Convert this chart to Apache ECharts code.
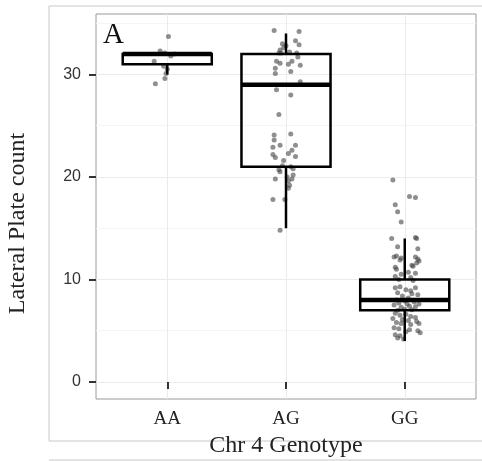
<!DOCTYPE html>
<html>
<head>
<meta charset="utf-8">
<script src="https://cdn.jsdelivr.net/npm/echarts@6/dist/echarts.min.js"></script>
<style>
    html, body { margin: 0; padding: 0; background: #fff; }
    #chart { width: 482px; height: 461px; }
</style>
</head>
<body>
<div id="chart"></div>
<script>
// genotypes on the x axis, placed at 1, 2, 3
var genotypes = ['AA', 'AG', 'GG'];
var yTicks = [0, 10, 20, 30];
var yMinorTicks = [5, 15, 25, 35];

// box statistics per genotype
var boxLow = [30, 15, 4];
var boxQ1 = [31, 21, 7];
var boxMedian = [32, 29, 8];
var boxQ3 = [32, 32, 10];
var boxHigh = [32, 34, 14];

// jittered points [x, plate count]
var aaPoints = [
    [1.01, 33.7], [0.94, 32.3], [0.98, 32.1], [1.03, 31.8], [1.06, 32.0],
    [0.89, 31.3], [0.97, 30.8], [1.00, 30.5], [0.99, 30.1], [0.98, 29.6],
    [0.90, 29.1]
];
var agPoints = [
    [1.90, 34.3], [2.11, 34.2], [2.08, 33.3], [2.11, 32.9], [1.95, 32.4],
    [1.98, 32.6], [1.96, 32.1], [1.94, 32.1], [2.09, 32.1], [2.10, 31.7],
    [1.92, 31.3], [2.05, 31.3], [2.02, 31.0], [2.12, 30.9], [1.91, 30.6],
    [1.95, 31.1], [1.91, 30.1], [2.04, 30.3], [2.12, 29.3], [1.92, 28.5],
    [2.04, 28.0], [1.94, 26.1], [2.00, 32.8], [1.97, 33.0], [2.03, 32.2],
    [1.90, 24.1], [2.04, 24.2], [1.90, 23.6], [1.95, 23.1], [2.08, 23.1],
    [1.89, 22.9], [2.05, 22.6], [2.02, 22.3], [1.89, 22.2], [1.91, 21.9],
    [2.08, 22.0], [1.98, 21.6], [1.97, 21.1], [2.04, 21.0], [1.94, 20.7],
    [1.95, 20.5], [2.06, 20.8], [2.01, 20.0], [2.06, 20.2], [1.91, 19.8],
    [2.02, 19.6], [2.03, 19.2], [2.05, 19.8], [2.02, 18.9], [1.89, 17.8],
    [1.99, 17.8], [1.95, 14.8]
];
var ggPoints = [
    [2.90, 19.7], [3.04, 18.1], [3.09, 18.0], [2.92, 17.3], [2.94, 16.6],
    [2.97, 15.6], [2.89, 14.0], [3.09, 14.1], [3.10, 14.0], [2.94, 13.2],
    [3.11, 13.0], [2.91, 12.2], [2.93, 12.3], [2.97, 12.1], [3.09, 12.2],
    [3.11, 12.0], [2.96, 11.9], [2.92, 11.2], [2.93, 11.0], [3.06, 11.4],
    [3.07, 11.3], [3.10, 11.6], [3.12, 11.8], [3.03, 10.7], [3.09, 10.6],
    [2.92, 10.3], [2.97, 10.5], [3.05, 10.2], [2.95, 10.0], [3.07, 9.9],
    [2.92, 9.2], [2.96, 9.3], [3.01, 9.0], [3.05, 8.9], [3.09, 9.2],
    [2.94, 8.7], [3.06, 8.6], [2.98, 8.4], [3.03, 8.2], [3.11, 8.5],
    [2.93, 8.0], [3.00, 7.9], [3.08, 7.8], [2.95, 7.7], [3.02, 7.6],
    [3.04, 7.4], [2.97, 7.3], [3.09, 7.35], [2.91, 7.5], [3.12, 7.6],
    [3.00, 7.1], [2.94, 7.0], [3.06, 7.05], [2.92, 6.7], [2.96, 6.5],
    [3.01, 6.6], [3.05, 6.4], [3.09, 6.3], [2.90, 6.2], [2.98, 6.1],
    [3.03, 6.0], [3.10, 5.9], [2.93, 5.8], [2.97, 5.7], [3.05, 5.6],
    [3.12, 5.7], [2.91, 5.3], [2.95, 5.2], [3.04, 5.1], [3.11, 5.0],
    [3.13, 4.8], [2.92, 4.6], [2.94, 4.3], [2.96, 4.5], [3.01, 4.9],
    [2.99, 4.2]
];

var boxHalfWidth = 0.375;
var serif = '"Liberation Serif", "DejaVu Serif", serif';

var myChart = echarts.init(document.getElementById('chart'));

var boxData = genotypes.map(function (name, i) {
    return [i + 1, boxLow[i], boxQ1[i], boxMedian[i], boxQ3[i], boxHigh[i]];
});

/**
 * 箱线图 -- 盒子、须线、中位数
 */
function renderBox(params, api) {
    var x = api.value(0);
    var low = api.coord([x, api.value(1)]);
    var q1 = api.coord([x, api.value(2)]);
    var q3 = api.coord([x, api.value(4)]);
    var high = api.coord([x, api.value(5)]);
    var tl = api.coord([x - boxHalfWidth, api.value(4)]);
    var br = api.coord([x + boxHalfWidth, api.value(2)]);
    var mL = api.coord([x - boxHalfWidth, api.value(3)]);
    var mR = api.coord([x + boxHalfWidth, api.value(3)]);
    var lineStyle = { stroke: '#000', lineWidth: 2.5, fill: null };
    return {
        type: 'group',
        children: [
            { type: 'line', shape: { x1: low[0], y1: low[1], x2: q1[0], y2: q1[1] }, style: lineStyle },
            { type: 'line', shape: { x1: q3[0], y1: q3[1], x2: high[0], y2: high[1] }, style: lineStyle },
            {
                type: 'rect',
                shape: { x: tl[0], y: tl[1], width: br[0] - tl[0], height: br[1] - tl[1] },
                style: { stroke: '#000', lineWidth: 2.5, fill: 'transparent' }
            },
            { type: 'line', shape: { x1: mL[0], y1: mL[1], x2: mR[0], y2: mR[1] }, style: { stroke: '#000', lineWidth: 4.5 } }
        ]
    };
}

var option = {
    animation: false,
    backgroundColor: '#fff',
    graphic: [
        {
            type: 'rect',
            shape: { x: 49, y: 6, width: 440, height: 435 },
            style: { fill: 'transparent', stroke: '#c8c8c8', lineWidth: 1 },
            z: -10
        },
        {
            type: 'line',
            shape: { x1: 49, y1: 460, x2: 482, y2: 460 },
            style: { stroke: '#c8c8c8', lineWidth: 1 }
        },
        {
            type: 'text',
            left: 103,
            top: 21,
            style: { text: 'A', font: '29px ' + serif, fill: '#111' },
            z: 10
        }
    ],
    grid: {
        left: 96,
        right: 6,
        top: 14,
        bottom: 62,
        show: true,
        borderColor: '#9a9a9a',
        borderWidth: 1,
        outerBoundsMode: 'none'
    },
    xAxis: {
        type: 'value',
        min: 0.4,
        max: 3.6,
        name: 'Chr 4 Genotype',
        nameLocation: 'middle',
        nameGap: 30,
        nameTextStyle: { fontFamily: serif, fontSize: 24, color: '#222' },
        axisLine: { show: false },
        axisTick: {
            show: true,
            customValues: [1, 2, 3],
            length: 7,
            lineStyle: { color: '#333', width: 2 }
        },
        axisLabel: {
            customValues: [1, 2, 3],
            margin: 11,
            fontFamily: serif,
            fontSize: 19,
            color: '#222',
            formatter: function (v) {
                return genotypes[Math.round(v) - 1];
            }
        },
        splitLine: { show: true, lineStyle: { color: '#ebebeb', width: 1 } }
    },
    yAxis: [{
        type: 'value',
        min: -1.66,
        max: 35.9,
        name: 'Lateral Plate count',
        nameLocation: 'middle',
        nameGap: 66,
        nameTextStyle: { fontFamily: serif, fontSize: 24, color: '#222', padding: [0, 34, 0, 0] },
        axisLine: { show: false },
        axisTick: {
            show: true,
            customValues: yTicks,
            length: 7,
            lineStyle: { color: '#333', width: 2 }
        },
        axisLabel: {
            customValues: yTicks,
            margin: 15,
            fontFamily: '"Liberation Sans", Arial, sans-serif',
            fontSize: 16,
            color: '#333'
        },
        splitLine: { show: true, lineStyle: { color: '#ebebeb', width: 1 } }
    }, {
        type: 'value',
        min: -1.66,
        max: 35.9,
        position: 'right',
        axisLine: { show: false },
        axisTick: { show: false, customValues: yMinorTicks },
        axisLabel: { show: false, customValues: yMinorTicks },
        splitLine: { show: true, lineStyle: { color: '#f5f5f5', width: 1 } }
    }],
    series: [{
        name: 'points',
        type: 'scatter',
        symbolSize: 5,
        itemStyle: { color: 'rgba(60, 60, 60, 0.72)' },
        data: aaPoints.concat(agPoints, ggPoints),
        z: 2
    }, {
        name: 'box',
        type: 'custom',
        renderItem: renderBox,
        data: boxData,
        z: 3
    }]
};
myChart.setOption(option);
</script>
</body>
</html>
